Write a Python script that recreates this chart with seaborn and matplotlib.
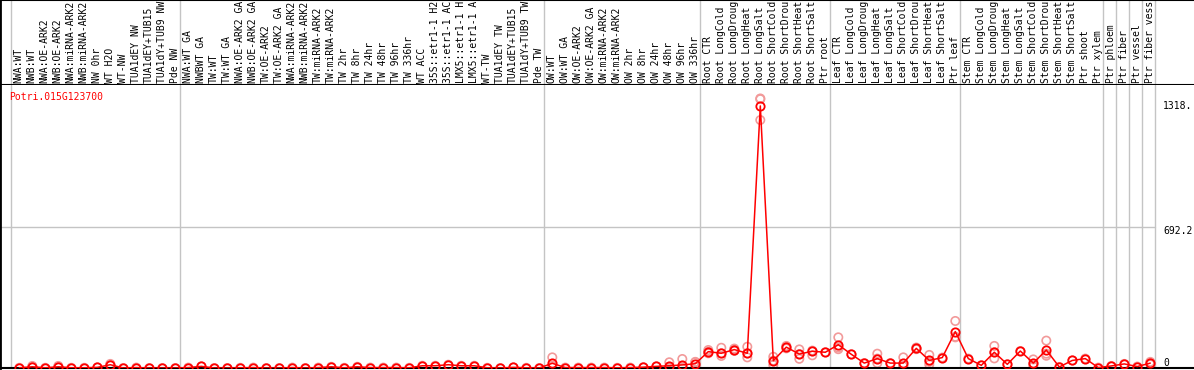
import numpy as np
import pandas as pd
import matplotlib
matplotlib.use("Agg")
import matplotlib.pyplot as plt
import matplotlib.transforms as mtransforms
import seaborn as sns

gene = "Potri.015G123700"

# sample names as far as they are visible in the header strip
labels = [
    "NWA:WT", "NWB:WT", "NWA:OE-ARK2", "NWB:OE-ARK2", "NWA:miRNA-ARK2", "NWB:miRNA-ARK2",
    "NW 0hr", "WT H2O", "WT-NW", "TUA1dEY NW", "TUA1dEY+TUB15", "TUA1dY+TUB9 NW", "Pde NW",
    "NWA:WT GA", "NWBWT GA", "TW:WT", "TW:WT GA", "NWA:OE-ARK2 GA", "NWB:OE-ARK2 GA",
    "TW:OE-ARK2", "TW:OE-ARK2 GA", "NWA:miRNA-ARK2", "NWB:miRNA-ARK2", "TW:miRNA-ARK2",
    "TW:miRNA-ARK2", "TW 2hr", "TW 8hr", "TW 24hr", "TW 48hr", "TW 96hr", "TW 336hr",
    "WT ACC", "35S::etr1-1 H2", "35S::etr1-1 AC", "LMX5::etr1-1 H", "LMX5::etr1-1 A",
    "WT-TW", "TUA1dEY TW", "TUA1dEY+TUB15", "TUA1dY+TUB9 TW", "Pde TW",
    "OW:WT", "OW:WT GA", "OW:OE-ARK2", "OW:OE-ARK2 GA", "OW:miRNA-ARK2", "OW:miRNA-ARK2",
    "OW 2hr", "OW 8hr", "OW 24hr", "OW 48hr", "OW 96hr", "OW 336hr",
    "Root CTR", "Root LongCold", "Root LongDroug", "Root LongHeat", "Root LongSalt",
    "Root ShortCold", "Root ShortDrou", "Root ShortHeat", "Root ShortSalt", "Ptr root",
    "Leaf CTR", "Leaf LongCold", "Leaf LongDroug", "Leaf LongHeat", "Leaf LongSalt",
    "Leaf ShortCold", "Leaf ShortDrou", "Leaf ShortHeat", "Leaf ShortSalt", "Ptr leaf",
    "Stem CTR", "Stem LongCold", "Stem LongDroug", "Stem LongHeat", "Stem LongSalt",
    "Stem ShortCold", "Stem ShortDrou", "Stem ShortHeat", "Stem ShortSalt", "Ptr shoot",
    "Ptr xylem", "Ptr phloem", "Ptr fiber", "Ptr vessel", "Ptr fiber vess",
]

means = [
    1, 6, 1, 6, 1, 1, 3, 16, 0, 2, 0, 0, 0,
    2, 8, 0, 0, 1, 2, 0, 0, 2, 0, 2, 6, 1, 6, 2, 2, 2, 1, 11, 11, 16, 11, 11, 1, 0, 3, 1, 0,
    23, 2, 2, 2, 2, 1, 2, 4, 8, 11, 15, 21,
    80, 72, 90, 72, 1282, 36, 102, 68, 82, 77,
    114, 67, 24, 46, 24, 24, 96, 37, 51, 178,
    46, 13, 77, 18, 83, 24, 88, 5, 37, 46, 2,
    10, 20, 7, 24,
]

# replicate values where they differ visibly from the mean
replicates = {
    1: [10, 4, 4], 3: [10, 4, 4], 7: [20, 14, 14],
    41: [52, 11, 6], 50: [28, 5, 0], 51: [44, 2, 0], 52: [30, 28, 5],
    53: [88, 80, 72], 54: [99, 72, 59], 55: [95, 90, 84], 56: [104, 72, 52],
    57: [1318.4, 1213, 1315], 58: [55, 36, 15], 59: [108, 102, 96], 60: [91, 68, 45],
    61: [85, 82, 62], 63: [150, 100, 92], 66: [70, 46, 24], 68: [52, 10, 10],
    69: [100, 96, 92], 70: [64, 30, 17], 72: [230, 153, 150], 75: [108, 77, 47],
    78: [42, 20, 10], 79: [134, 70, 60], 87: [30, 24, 18],
}

group_edges = [0, 13, 41, 53, 63, 73, 84, 85, 86, 87, 88]
top_value = 1318.4
ytick_text = ["1318.", "692.2", "0"]

sns.set_style("white")
plt.rcParams["font.family"] = ["DejaVu Sans Mono"]
fs = 7.0

W, H = 1194, 370
fig = plt.figure(figsize=(W / 100, H / 100), dpi=100)
x0, step = 19.3, 13.0
xlim = (-x0 / step, (W - x0) / step)

def px2x(p):
    return (p - x0) / step

ax_h = fig.add_axes([0, 285 / H, 1, 85 / H])
ax = fig.add_axes([0, 2 / H, 1, 283 / H])

for a in (ax_h, ax):
    a.set_xlim(*xlim)
    a.set_xticks([])
    a.set_yticks([])
    a.set_facecolor("white")
    for s in a.spines.values():
        s.set_visible(False)
    a.spines["left"].set_visible(True)
    a.spines["left"].set_color("black")
    a.spines["left"].set_linewidth(2)
    for k in group_edges:
        a.axvline(px2x(11 + 13 * k), color="#c4c4c4", lw=1, zorder=0)

ax_h.set_ylim(0, 1)
for sp in ("top", "bottom"):
    ax_h.spines[sp].set_visible(True)
    ax_h.spines[sp].set_color("black")
    ax_h.spines[sp].set_linewidth(1.5)
ax.spines["bottom"].set_visible(True)
ax.spines["bottom"].set_color("black")
ax.spines["bottom"].set_linewidth(1.5)

trans_h = mtransforms.blended_transform_factory(ax_h.transData, ax_h.transAxes)
for i, lab in enumerate(labels):
    ax_h.text(i - 0.06, 2 / 85, lab, rotation=90, ha="center", va="bottom",
              fontsize=fs, color="black", transform=trans_h)

ymax = top_value * 1.05
ax.set_ylim(0, ymax)
ax.axhline(ymax / 2, xmax=1155 / W, color="#c4c4c4", lw=1, zorder=0)

rows = []
for i, m in enumerate(means):
    for v in replicates.get(i, [m]):
        rows.append((i, v))
rep_df = pd.DataFrame(rows, columns=["idx", "val"])
sns.scatterplot(data=rep_df, x="idx", y="val", marker="o", s=36, fc="none",
                ec="#f29a9a", linewidth=1.2, ax=ax, zorder=2, legend=False)

mean_df = pd.DataFrame({"idx": np.arange(len(means)), "val": means})
sns.lineplot(data=mean_df, x="idx", y="val", color="#ff0000", lw=1.1, marker="o",
             markersize=6.0, markerfacecolor="none", markeredgecolor="#ff0000",
             markeredgewidth=1.3, ax=ax, zorder=3)
ax.set_xlabel("")
ax.set_ylabel("")
ax.set_xlim(*xlim)

for txt, val, off in zip(ytick_text, [top_value, ymax / 2, 0], [-8, -5, 5]):
    ax.annotate(txt, xy=(px2x(1163), val), xytext=(0, off), textcoords="offset pixels",
                ha="left", va="center", fontsize=fs, color="black", annotation_clip=False)

ax.text(9 / W, (283 - 12) / 283, gene, transform=ax.transAxes, ha="left", va="center",
        fontsize=fs, color="#ff0000")

fig.savefig("out.png", dpi=100)
